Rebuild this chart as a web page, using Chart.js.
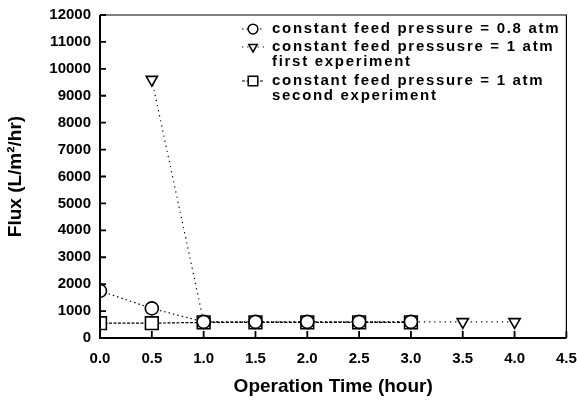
<!DOCTYPE html>
<html>
<head>
<meta charset="utf-8">
<script src="https://cdn.jsdelivr.net/npm/chart.js@4.4.0/dist/chart.umd.min.js"></script>
<style>
  body { margin: 0; background: #fff; }
  #wrap { width: 577px; height: 404px; }
</style>
</head>
<body>
<div id="wrap"><canvas id="myChart" width="577" height="404"></canvas></div>
<script>
// data
const timeCircle = [0, 0.5, 1.0, 1.5, 2.0, 2.5, 3.0];
const fluxCircle = [1750, 1100, 600, 600, 600, 600, 600];

const timeTriangle = [0.5, 1.0, 1.5, 2.0, 2.5, 3.0, 3.5, 4.0];
const fluxTriangle = [9600, 600, 600, 600, 600, 600, 600, 600];

const timeSquare = [0, 0.5, 1.0, 1.5, 2.0, 2.5, 3.0];
const fluxSquare = [550, 550, 580, 580, 580, 580, 580];

const legendLines = [
  ["constant feed pressure = 0.8 atm"],
  ["constant feed pressusre = 1 atm", "first experiment"],
  ["constant feed pressure = 1 atm", "second experiment"]
];

const xTitle = "Operation Time (hour)";
const yTitle = "Flux (L/m\u00b2/hr)";

const FONT = "'Liberation Sans', Arial, sans-serif";

let pts = (xs, ys) => xs.map((x, i) => ({ x: x, y: ys[i] }));

// inward ticks, heavy axes, thin box
const frame = {
  id: "frame",
  afterDatasetsDraw(chart) {
    const ctx = chart.ctx;
    const a = chart.chartArea;
    const xs = chart.scales.x, ys = chart.scales.y;
    ctx.save();
    ctx.strokeStyle = "#000";
    ctx.lineWidth = 1.2;
    ctx.beginPath();
    ctx.moveTo(a.left, a.top);
    ctx.lineTo(a.right, a.top);
    ctx.lineTo(a.right, a.bottom);
    ctx.stroke();
    ctx.lineWidth = 2;
    ctx.beginPath();
    ctx.moveTo(a.left, a.top);
    ctx.lineTo(a.left, a.bottom);
    ctx.lineTo(a.right, a.bottom);
    ctx.stroke();
    ctx.lineWidth = 1.8;
    ctx.beginPath();
    xs.ticks.forEach((t) => {
      const px = xs.getPixelForValue(t.value);
      ctx.moveTo(px, a.bottom);
      ctx.lineTo(px, a.bottom - 7);
    });
    ys.ticks.forEach((t) => {
      const py = ys.getPixelForValue(t.value);
      ctx.moveTo(a.left, py);
      ctx.lineTo(a.left + 6, py);
    });
    ctx.stroke();
    ctx.restore();
  }
};

const legendBox = {
  id: "legendBox",
  afterDraw(chart) {
    const ctx = chart.ctx;
    const rows = [29, 47, 81];
    ctx.save();
    chart.data.datasets.forEach((ds, i) => {
      const y = rows[i];
      ctx.strokeStyle = "#000";
      ctx.lineWidth = 1.2;
      ctx.setLineDash(ds.borderDash);
      ctx.beginPath();
      ctx.moveTo(242, y);
      ctx.lineTo(264, y);
      ctx.stroke();
      ctx.setLineDash([]);
      ctx.fillStyle = "#fff";
      ctx.lineWidth = 1.5;
      Chart.helpers.drawPoint(ctx, {
        pointStyle: ds.pointStyle,
        radius: ds.pointRadius * 0.75,
        rotation: ds.pointRotation || 0,
        borderWidth: 1.5
      }, 253, y);
      ctx.fillStyle = "#000";
      ctx.font = "bold 15px " + FONT;
      ctx.letterSpacing = "1.7px";
      ctx.textBaseline = "middle";
      legendLines[i].forEach((line, j) => {
        ctx.fillText(line, 272, y + j * 15);
      });
    });
    ctx.restore();
  }
};

const ctx = document.getElementById("myChart").getContext("2d");
const chart = new Chart(ctx, {
  type: "scatter",
  data: {
    datasets: [
      {
        label: legendLines[0].join(" "),
        data: pts(timeCircle, fluxCircle),
        showLine: true,
        borderColor: "#000",
        borderWidth: 1.2,
        borderDash: [1.5, 3],
        pointStyle: "circle",
        pointRadius: 6.5,
        pointBackgroundColor: "#fff",
        pointBorderColor: "#000",
        pointBorderWidth: 1.6
      },
      {
        label: legendLines[1].join(" "),
        data: pts(timeTriangle, fluxTriangle),
        showLine: true,
        borderColor: "#000",
        borderWidth: 1.2,
        borderDash: [1.2, 4],
        pointStyle: "triangle",
        pointRotation: 180,
        pointRadius: 6.5,
        pointBackgroundColor: "#fff",
        pointBorderColor: "#000",
        pointBorderWidth: 1.6
      },
      {
        label: legendLines[2].join(" "),
        data: pts(timeSquare, fluxSquare),
        showLine: true,
        borderColor: "#000",
        borderWidth: 1.2,
        borderDash: [3, 1.5],
        pointStyle: "rect",
        pointRadius: 9,
        pointBackgroundColor: "#fff",
        pointBorderColor: "#000",
        pointBorderWidth: 1.6
      }
    ]
  },
  options: {
    responsive: false,
    animation: false,
    layout: { padding: { top: 15, right: 0, left: 0, bottom: 0 } },
    plugins: {
      legend: { display: false },
      tooltip: { enabled: false }
    },
    scales: {
      x: {
        type: "linear",
        min: 0,
        max: 4.5,
        grid: { display: false, drawTicks: false },
        border: { display: false },
        ticks: {
          stepSize: 0.5,
          padding: 12,
          color: "#000",
          font: { family: FONT, size: 15, weight: "bold" },
          callback: (v) => v.toFixed(1)
        },
        title: {
          display: true,
          text: xTitle,
          color: "#000",
          font: { family: FONT, size: 19, weight: "bold" },
          padding: { top: 4, bottom: 6 }
        },
        afterFit: (s) => { s.height = 66; s.paddingRight = 10; }
      },
      y: {
        min: 0,
        max: 12000,
        grid: { display: false, drawTicks: false },
        border: { display: false },
        ticks: {
          stepSize: 1000,
          padding: 9,
          color: "#000",
          font: { family: FONT, size: 15, weight: "bold" },
          callback: (v) => String(v)
        },
        title: {
          display: true,
          text: yTitle,
          color: "#000",
          font: { family: FONT, size: 19, weight: "bold" },
          padding: { top: 4, bottom: 11 }
        },
        afterFit: (s) => { s.width = 100; s.paddingTop = 0; }
      }
    }
  },
  plugins: [frame, legendBox]
});
</script>
</body>
</html>
